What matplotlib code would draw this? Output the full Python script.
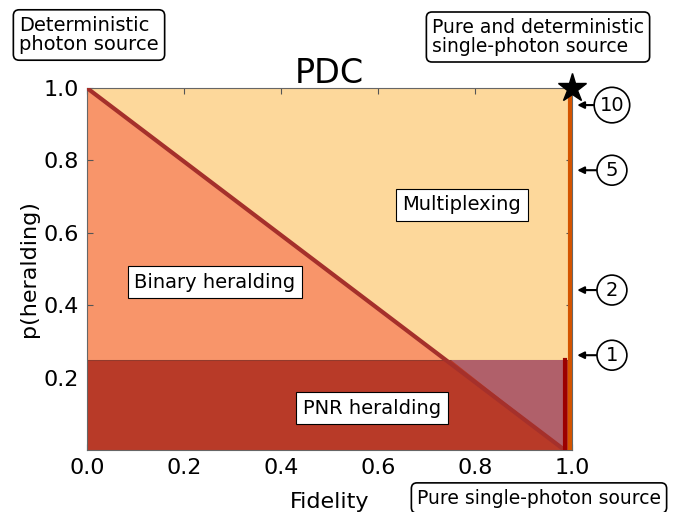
import matplotlib
matplotlib.use("Agg")
import matplotlib.pyplot as plt

# Data
binary_triangle_x = [0.0, 0.0, 0.985]
binary_triangle_y = [1.0, 0.0, 0.0]
pnr_level = 0.25
diag_x = [0.0, 0.985]
diag_y = [1.0, 0.0]
overlap_x = [0.75, 0.985, 0.985]
overlap_y = [0.25, 0.25, 0.0]
mux_labels = ["10", "5", "2", "1"]
mux_levels = [0.953, 0.773, 0.442, 0.262]
xticks = [0.0, 0.2, 0.4, 0.6, 0.8, 1.0]
yticks = [0.2, 0.4, 0.6, 0.8, 1.0]

fig = plt.figure(figsize=(6.8, 5.12), dpi=100)
ax = fig.add_axes([0.128, 0.121, 0.713, 0.707])
ax.set_xlim(0, 1.0)
ax.set_ylim(0, 1.0)
ax.set_facecolor("#FDD89B")

ax.fill(binary_triangle_x, binary_triangle_y, color="#F8956A", lw=0, zorder=1)
ax.fill_between([0, 1.0], 0, pnr_level, color="#B83A28", lw=0, zorder=2)
ax.plot([0, 1.0], [pnr_level, pnr_level], color="#7a3a30", lw=0.8, alpha=0.6, zorder=2)
ax.fill(overlap_x, overlap_y, color="#B0606A", lw=0, zorder=3)
ax.plot(diag_x, diag_y, color="#A5302B", lw=3, zorder=4, solid_capstyle="butt")
ax.plot([0.985, 0.985], [0, pnr_level], color="#9B0000", lw=3, zorder=5)
ax.plot([0.996, 0.996], [0, 1.0], color="#D35400", lw=3, zorder=5)
ax.plot([1.0], [1.0], marker="*", color="black", ms=21, clip_on=False, zorder=10)

ax.set_xticks(xticks)
ax.set_yticks(yticks)
ax.tick_params(direction="in", top=True, right=True, labelsize=16, length=4, pad=6,
               colors="#555555", labelcolor="black")
for s in ax.spines.values():
    s.set_color("#666666")
ax.set_xlabel("Fidelity", fontsize=16, labelpad=10)
ax.set_ylabel("p(heralding)", fontsize=16, labelpad=3)
ax.set_title("PDC", fontsize=24, pad=4)

box = dict(boxstyle="square,pad=0.35", fc="white", ec="black", lw=0.8)
ax.text(0.264, 0.464, "Binary heralding", ha="center", va="center", fontsize=14, bbox=box, zorder=11)
ax.text(0.773, 0.677, "Multiplexing", ha="center", va="center", fontsize=14, bbox=box, zorder=11)
ax.text(0.588, 0.116, "PNR heralding", ha="center", va="center", fontsize=14, bbox=box, zorder=11)

for lab, lv in zip(mux_labels, mux_levels):
    ax.annotate(lab, xy=(1.011, lv), xycoords="data", xytext=(25, 0), textcoords="offset points",
                ha="center", va="center", fontsize=14, annotation_clip=False,
                bbox=dict(boxstyle="circle,pad=0.28", fc="white", ec="black", lw=1.2),
                arrowprops=dict(arrowstyle="-|>", color="black", lw=1.5, shrinkA=0, shrinkB=0,
                                mutation_scale=10))

rbox = dict(boxstyle="round,pad=0.3", fc="white", ec="black", lw=1.2)
fig.text(89/680, 1 - 35/512, "Deterministic\nphoton source", ha="center", va="center", fontsize=14,
         bbox=rbox, linespacing=1.05, multialignment="left")
fig.text(538/680, 1 - 37/512, "Pure and deterministic\nsingle-photon source", ha="center", va="center",
         fontsize=13.5, bbox=rbox, linespacing=1.05, multialignment="left")
fig.text(539/680, 1 - 498/512, "Pure single-photon source", ha="center", va="center", fontsize=13.5,
         bbox=rbox)

fig.savefig("out.png", dpi=100)
